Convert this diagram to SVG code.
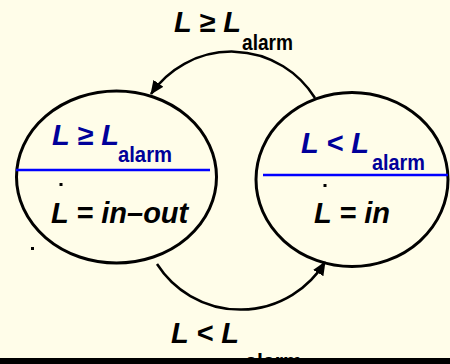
<svg xmlns="http://www.w3.org/2000/svg" width="450" height="364" viewBox="0 0 450 364">
<defs>
<style>
.bg{fill:#FFFDE9}
.node{fill:none;stroke:#000;stroke-width:3}
.div{stroke:#0000FF;stroke-width:2.5}
.conn{fill:none;stroke:#000;stroke-width:2.5}
text{font-family:"Liberation Sans",Arial,sans-serif;font-weight:bold}
.big{font-style:italic;font-size:29px}
.sub{font-size:22px}
.blue{fill:#00009A}
.blk{fill:#000}
</style>
<marker id="ah" viewBox="0 0 14 12" refX="13" refY="6" markerWidth="14" markerHeight="12" markerUnits="userSpaceOnUse" orient="auto">
<path d="M0,0 L14,6 L0,12 Z" fill="#000"/>
</marker>
</defs>
<rect class="bg" x="0" y="0" width="450" height="364"/>
<g id="connectors">
<path class="conn" d="M315,98 A98,98 0 0 0 151,94" marker-end="url(#ah)"/>
<path class="conn" d="M157,264 A99,99 0 0 0 325,262" marker-end="url(#ah)"/>
</g>
<g id="label-top">
<text class="big blk" x="174" y="32">L ≥ L</text>
<text class="sub blk" x="242" y="50" textLength="51" lengthAdjust="spacingAndGlyphs">alarm</text>
</g>
<g id="label-bottom">
<text class="big blk" x="171" y="343">L &lt; L</text>
<text class="sub blk" x="245" y="369" textLength="57" lengthAdjust="spacingAndGlyphs">alarm</text>
</g>
<g id="state-alarm">
<ellipse class="node" cx="116.5" cy="177" rx="100" ry="86"/>
<line class="div" x1="16" y1="170" x2="210" y2="170"/>
<text class="big blue" x="52" y="145">L ≥ L</text>
<text class="sub blue" x="118" y="162" textLength="54" lengthAdjust="spacingAndGlyphs">alarm</text>
<rect x="59.5" y="183" width="3" height="3" fill="#000"/>
<text class="big blk" x="51" y="223">L = in–out</text>
</g>
<g id="state-normal">
<ellipse class="node" cx="352" cy="179.5" rx="96" ry="87"/>
<line class="div" x1="263" y1="175" x2="448" y2="175"/>
<text class="big blue" x="301" y="153">L &lt; L</text>
<text class="sub blue" x="372" y="170" textLength="53" lengthAdjust="spacingAndGlyphs">alarm</text>
<rect x="323.5" y="184" width="3" height="3" fill="#000"/>
<text class="big blk" x="314" y="223">L = in</text>
</g>
<rect x="31" y="247" width="3" height="3" fill="#000"/>
<rect x="0" y="358" width="450" height="6" fill="#000"/>
</svg>
